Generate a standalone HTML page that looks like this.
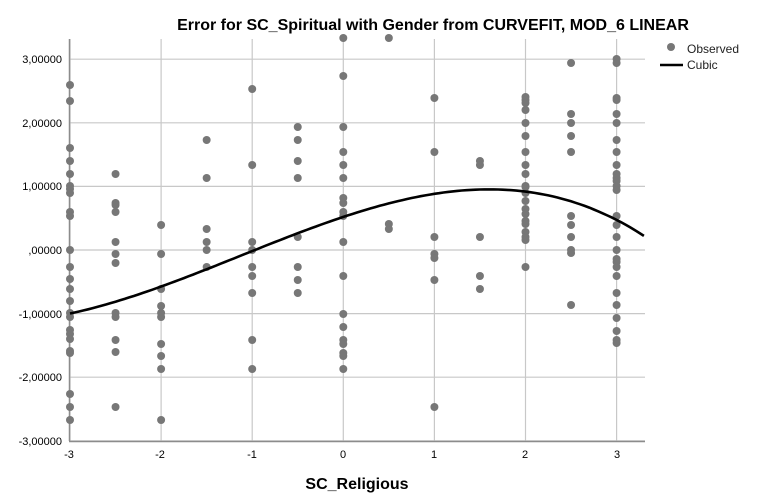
<!DOCTYPE html>
<html><head><meta charset="utf-8"><style>
html,body{margin:0;padding:0;background:#fff;}
svg{display:block;font-family:"Liberation Sans",Arial,sans-serif;}
</style></head><body>
<svg id="s" width="762" height="504" xmlns="http://www.w3.org/2000/svg">
<rect width="762" height="504" fill="#fff"/>
<g id="grid" stroke="#c8c8c8" stroke-width="1.2"></g>
<line x1="69.5" y1="39" x2="69.5" y2="441" stroke="#8c8c8c" stroke-width="1.5"/>
<line x1="69" y1="441.5" x2="645" y2="441.5" stroke="#8c8c8c" stroke-width="1.5"/>
<g id="pts" fill="#777"></g>
<path id="curve" fill="none" stroke="#000" stroke-width="2.6"/>
<g font-size="11" fill="#000" text-anchor="end">
<text x="62" y="63">3,00000</text>
<text x="62" y="127">2,00000</text>
<text x="62" y="190">1,00000</text>
<text x="62" y="254">,00000</text>
<text x="62" y="318">-1,00000</text>
<text x="62" y="381">-2,00000</text>
<text x="62" y="445">-3,00000</text>
</g>
<g font-size="11" fill="#000" text-anchor="middle">
<text x="69" y="458">-3</text>
<text x="160" y="458">-2</text>
<text x="252" y="458">-1</text>
<text x="343" y="458">0</text>
<text x="434" y="458">1</text>
<text x="525" y="458">2</text>
<text x="617" y="458">3</text>
</g>
<text x="433" y="30" font-size="16" font-weight="bold" text-anchor="middle">Error for SC_Spiritual with Gender from CURVEFIT, MOD_6 LINEAR</text>
<text x="357" y="489" font-size="16" font-weight="bold" text-anchor="middle">SC_Religious</text>
<circle cx="671" cy="47" r="4" fill="#777"/>
<text x="687" y="53" font-size="12" fill="#222">Observed</text>
<line x1="660" y1="65" x2="683" y2="65" stroke="#000" stroke-width="2.6"/>
<text x="687" y="69" font-size="12" fill="#222">Cubic</text>
</svg>
<script>
var NS="http://www.w3.org/2000/svg";
function X(v){return 343.3+v*91.1;}
function Y(v){return 250-v*63.6;}
var g=document.getElementById('grid');
[-3,-2,-1,0,1,2,3].forEach(function(v){
 var l=document.createElementNS(NS,'line');l.setAttribute('x1',X(v));l.setAttribute('x2',X(v));l.setAttribute('y1',39);l.setAttribute('y2',441);g.appendChild(l);
 var h=document.createElementNS(NS,'line');h.setAttribute('y1',Y(v));h.setAttribute('y2',Y(v));h.setAttribute('x1',69);h.setAttribute('x2',645);g.appendChild(h);
});
var data={
"-3":[85,101,148,161,174,186,189,193,212,216,250,267,279,289,301,313,317,330,334,339,351,353,394,407,420],
"-2.5":[174,203,205,212,242,254,263,313,317,340,352,407],
"-2":[225,254,289,306,313,317,344,356,369,420],
"-1.5":[140,178,229,242,250,267],
"-1":[89,165,242,250,267,276,293,340,369],
"-0.5":[127,140,161,178,237,267,280,293],
"0":[38,76,127,152,165,178,198,203,212,216,242,276,314,327,340,344,353,356,369],
"0.5":[38,224,229],
"1":[98,152,237,254,258,280,407],
"1.5":[161,165,237,276,289],
"2":[97,100,103,110,123,136,152,165,174,186,187,193,201,209,214,221,224,232,237,240,267],
"2.5":[63,114,123,136,152,216,225,237,250,253,305],
"3":[59,63,98,100,114,123,140,152,165,174,178,181,186,190,216,225,237,250,259,262,267,276,293,305,318,331,340,343]};
var p=document.getElementById('pts');
for(var k in data){var cx=X(parseFloat(k));if(k=="-3")cx=70;data[k].forEach(function(y){
 var c=document.createElementNS(NS,'circle');c.setAttribute('cx',cx);c.setAttribute('cy',y);c.setAttribute('r',4);p.appendChild(c);});}
var d="";
for(var x=-3;x<=3.31;x+=0.05){var f=0.52+0.4756*x-0.087*x*x-0.0256*x*x*x;var px=Math.min(X(x),645);d+=(d?"L":"M")+px.toFixed(1)+","+Y(f).toFixed(1);}
document.getElementById('curve').setAttribute('d',d);
</script>
</body></html>
